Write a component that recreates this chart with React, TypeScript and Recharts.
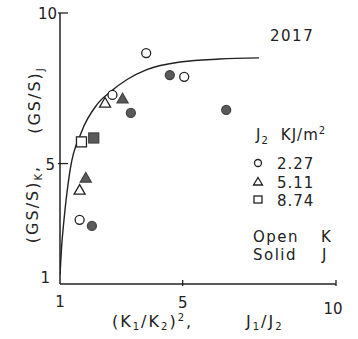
import React from 'react';
import { ComposedChart, XAxis, YAxis, Scatter, Line, Customized } from 'recharts';

const xTicks = [1, 5, 10];
const yTicks = [1, 5, 10];

const openCircle = [
  { x: 3.81, y: 8.67 },
  { x: 5.05, y: 7.88 },
  { x: 2.71, y: 7.28 },
  { x: 1.64, y: 3.13 },
];
const solidCircle = [
  { x: 4.58, y: 7.94 },
  { x: 6.42, y: 6.78 },
  { x: 3.31, y: 6.68 },
  { x: 2.04, y: 2.93 },
];
const openTriangle = [
  { x: 2.47, y: 7.01 },
  { x: 1.64, y: 4.12 },
];
const solidTriangle = [
  { x: 3.04, y: 7.15 },
  { x: 1.84, y: 4.52 },
];
const openSquare = [{ x: 1.7, y: 5.72 }];
const solidSquare = [{ x: 2.1, y: 5.85 }];

const curve = [
  { x: 1.0, y: 1.3 },
  { x: 1.05, y: 2.2 },
  { x: 1.13, y: 3.13 },
  { x: 1.33, y: 4.79 },
  { x: 1.7, y: 6.05 },
  { x: 2.2, y: 6.95 },
  { x: 2.64, y: 7.38 },
  { x: 3.2, y: 7.8 },
  { x: 3.81, y: 8.11 },
  { x: 4.98, y: 8.38 },
  { x: 6.2, y: 8.47 },
  { x: 7.49, y: 8.51 },
];

const INK = '#222';
const SOLID = '#5a5a5a';
const FONT = '"DejaVu Sans", sans-serif';

const mkShape = (kind: string, filled: boolean) => (props: any) => {
  const { cx, cy } = props;
  const fill = filled ? SOLID : '#fff';
  const stroke = filled ? '#444' : INK;
  if (kind === 'circle') return <circle cx={cx} cy={cy} r={4.5} fill={fill} stroke={stroke} strokeWidth={1.3} />;
  if (kind === 'triangle') {
    const s = 5.5;
    return (
      <polygon
        points={`${cx},${cy - s} ${cx - s},${cy + s * 0.75} ${cx + s},${cy + s * 0.75}`}
        fill={fill}
        stroke={stroke}
        strokeWidth={1.3}
      />
    );
  }
  return <rect x={cx - 5} y={cy - 5} width={10} height={10} fill={fill} stroke={stroke} strokeWidth={1.3} />;
};

const XTick = (props: any) => {
  const { x, y, payload } = props;
  const v = payload.value;
  const dy = v === 10 ? 28 : v === 5 ? 22 : 21;
  const dx = v === 10 ? -3 : 0;
  return (
    <g>
      {v !== 1 && <line x1={x} x2={x} y1={y} y2={y - 6} stroke={INK} strokeWidth={1.3} />}
      <text x={x + dx} y={y + dy} textAnchor="middle" fontFamily={FONT} fontSize={15} fill={INK}>
        {v}
      </text>
    </g>
  );
};

const YTick = (props: any) => {
  const { x, y, payload } = props;
  const v = payload.value;
  return (
    <g>
      {v !== 1 && <line x1={x} x2={x + 10} y1={y} y2={y} stroke={INK} strokeWidth={1.3} />}
      <text
        x={x - (v === 1 ? 8 : v === 5 ? 3 : 1)}
        y={y + (v === 1 ? -1 : 6)}
        textAnchor="end"
        fontFamily={FONT}
        fontSize={15}
        fill={INK}
      >
        {v}
      </text>
    </g>
  );
};

const Annotations = () => {
  const t = { fontFamily: FONT, fontSize: 15, fill: INK, letterSpacing: 1 } as any;
  const tt = { fontFamily: FONT, fontSize: 16, fill: INK, letterSpacing: 2 } as any;
  const sub = { fontSize: 10 } as any;
  return (
    <g>
      <text x={270} y={41} {...t} letterSpacing={1.5}>2017</text>
      <text x={256} y={140} {...t}>
        J<tspan {...sub} dy={4}>2</tspan>
        <tspan dy={-4} dx={12}>KJ/m</tspan>
        <tspan {...sub} dy={-6}>2</tspan>
      </text>
      <circle cx={258} cy={163} r={3.5} fill="#fff" stroke={INK} strokeWidth={1.3} />
      <text x={277} y={168.5} {...t}>2.27</text>
      <polygon points="258,177.5 253.5,185 262.5,185" fill="#fff" stroke={INK} strokeWidth={1.3} />
      <text x={277} y={187.5} {...t}>5.11</text>
      <rect x={254} y={196} width={8} height={7} fill="#fff" stroke={INK} strokeWidth={1.3} />
      <text x={277} y={205.5} {...t}>8.74</text>
      <text x={253} y={242} {...t} letterSpacing={1.5}>Open</text>
      <text x={321} y={242} {...t}>K</text>
      <text x={253} y={260} {...t} letterSpacing={1.5}>Solid</text>
      <text x={322} y={260} {...t}>J</text>
      <text x={112} y={327} {...tt}>
        (K<tspan {...sub} dy={3}>1</tspan>
        <tspan dy={-3}>/K</tspan>
        <tspan {...sub} dy={3}>2</tspan>
        <tspan dy={-3}>)</tspan>
        <tspan {...sub} dy={-6}>2</tspan>
        <tspan dy={6}>,</tspan>
      </text>
      <text x={246} y={327} {...tt}>
        J<tspan {...sub} dy={3}>1</tspan>
        <tspan dy={-3}>/J</tspan>
        <tspan {...sub} dy={3}>2</tspan>
      </text>
      <text transform="translate(40,100) rotate(-90)" textAnchor="middle" {...tt}>
        (GS/S)<tspan {...sub} dy={4}>J</tspan>
      </text>
      <text transform="translate(38,204) rotate(-90)" textAnchor="middle" {...tt}>
        (GS/S)<tspan {...sub} dy={4}>K</tspan>
        <tspan dy={-4}>,</tspan>
      </text>
    </g>
  );
};

export default function App() {
  return (
    <div style={{ position: 'absolute', left: 0, top: 0, background: '#fff' }}>
      <ComposedChart width={358} height={339} margin={{ top: 13, right: 22, bottom: 0, left: 0 }}>
        <XAxis
          type="number"
          dataKey="x"
          domain={[1, 10]}
          ticks={xTicks}
          allowDataOverflow
          tickSize={0}
          tickLine={false}
          tick={<XTick />}
          axisLine={{ stroke: INK, strokeWidth: 1.5 }}
          height={55}
        />
        <YAxis
          type="number"
          dataKey="y"
          domain={[1, 10]}
          ticks={yTicks}
          allowDataOverflow
          tickSize={0}
          tickLine={false}
          tick={<YTick />}
          axisLine={{ stroke: INK, strokeWidth: 1.5 }}
          width={60}
        />
        <Line
          data={curve}
          dataKey="y"
          type="monotone"
          stroke={INK}
          strokeWidth={1.4}
          dot={false}
          isAnimationActive={false}
        />
        <Scatter data={openCircle} dataKey="y" shape={mkShape('circle', false)} isAnimationActive={false} />
        <Scatter data={solidCircle} dataKey="y" shape={mkShape('circle', true)} isAnimationActive={false} />
        <Scatter data={openTriangle} dataKey="y" shape={mkShape('triangle', false)} isAnimationActive={false} />
        <Scatter data={solidTriangle} dataKey="y" shape={mkShape('triangle', true)} isAnimationActive={false} />
        <Scatter data={openSquare} dataKey="y" shape={mkShape('square', false)} isAnimationActive={false} />
        <Scatter data={solidSquare} dataKey="y" shape={mkShape('square', true)} isAnimationActive={false} />
        <Customized component={Annotations} />
      </ComposedChart>
    </div>
  );
}
